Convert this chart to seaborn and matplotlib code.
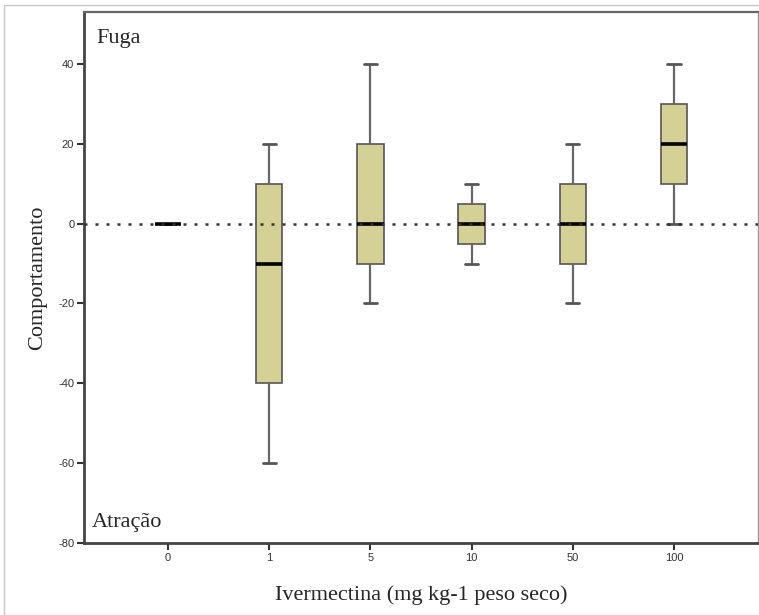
import pandas as pd
import matplotlib.pyplot as plt
import seaborn as sns
from matplotlib.patches import Rectangle

# Five-number summaries (min, q1, median, q3, max)
doses = ['0', '1', '5', '10', '50', '100']
dose_0 = [0, 0, 0, 0, 0]
dose_1 = [-60, -40, -10, 10, 20]
dose_5 = [-20, -10, 0, 20, 40]
dose_10 = [-10, -5, 0, 5, 10]
dose_50 = [-20, -10, 0, 10, 20]
dose_100 = [0, 10, 20, 30, 40]
yticks = [-80, -60, -40, -20, 0, 20, 40]

groups = [dose_0, dose_1, dose_5, dose_10, dose_50, dose_100]
df = pd.DataFrame({
    'dose': [d for d, g in zip(doses, groups) for _ in g],
    'comportamento': [v for g in groups for v in g],
})

sns.set_style('white')
plt.rcParams['font.family'] = ['Liberation Sans', 'DejaVu Sans']

fig = plt.figure(figsize=(7.59, 6.15), dpi=100)
ax = fig.add_axes([84 / 759, 1 - 543 / 615, 674 / 759, 531 / 615])

# light outer frame
fig.patches.append(Rectangle((4 / 759, 0), 1, 1 - 5 / 615, transform=fig.transFigure,
                             fill=False, edgecolor='#c8c8c8', lw=1.0))

ax.axhline(0, color='#333333', ls=(0, (1.2, 3.2)), lw=1.8, zorder=5)

sns.boxplot(data=df, x='dose', y='comportamento', order=doses, ax=ax,
            width=0.26, color='#d4d096', saturation=1, linecolor='#555555', linewidth=1.2,
            whis=3, showfliers=False,
            medianprops=dict(color='black', linewidth=2.6),
            whiskerprops=dict(color='#666666', linewidth=1.6),
            capprops=dict(color='#555555', linewidth=2))

ax.set_xlim(-0.83, 5.83)
ax.set_ylim(-80, 53)
ax.set_yticks(yticks)
ax.set_yticklabels([str(t) for t in yticks])
ax.tick_params(axis='both', which='major', labelsize=8, colors='#333333',
               length=5, width=1.5, direction='out', left=True, bottom=True, pad=2)

for side in ['left', 'bottom']:
    ax.spines[side].set_color('#444444')
    ax.spines[side].set_linewidth(2)
ax.spines['top'].set_color('#666666')
ax.spines['top'].set_linewidth(1.6)
ax.spines['right'].set_color('#999999')
ax.spines['right'].set_linewidth(1)

serif = ['Liberation Serif', 'DejaVu Serif']
ax.set_xlabel('Ivermectina (mg kg-1 peso seco)', family=serif, fontsize=16, labelpad=16)
ax.set_ylabel('Comportamento', family=serif, fontsize=16, labelpad=8)
ax.text(0.019, 0.950, 'Fuga', transform=ax.transAxes, family=serif, fontsize=16,
        va='center', ha='left')
ax.text(0.012, 0.039, 'Atração', transform=ax.transAxes, family=serif, fontsize=16,
        va='center', ha='left')

plt.savefig('out.png', dpi=100)
